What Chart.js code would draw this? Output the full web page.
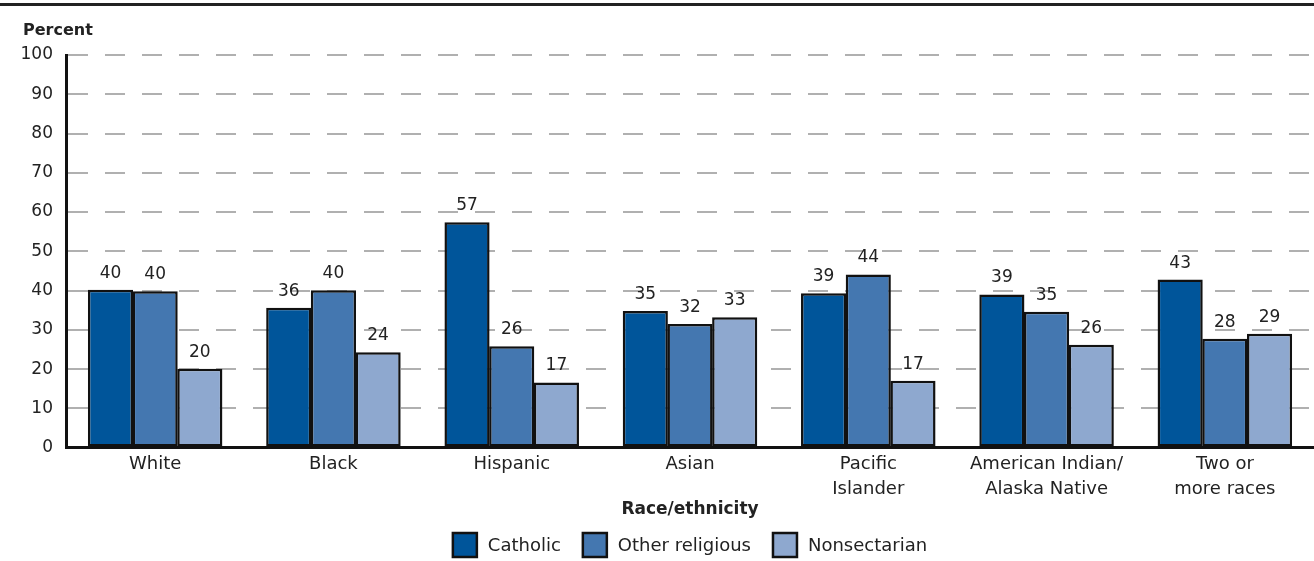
<!DOCTYPE html>
<html>
<head>
<meta charset="utf-8">
<script src="https://cdn.jsdelivr.net/npm/chart.js@4/dist/chart.umd.min.js"></script>
<style>
  html, body { margin: 0; padding: 0; background: #fff; }
  #wrap { width: 1314px; height: 561px; position: relative; }
</style>
</head>
<body>
<div id="wrap"><canvas id="chart" width="1314" height="561"></canvas></div>
<script>
// Race/ethnicity by school type (percent); labels show the rounded value
const categories = ["White", "Black", "Hispanic", "Asian", ["Pacific", "Islander"], ["American Indian/", "Alaska Native"], ["Two or", "more races"]];
const catholic = [40.2, 35.6, 57.4, 34.8, 39.3, 39.0, 42.8];
const otherReligious = [39.8, 40.1, 25.8, 31.5, 44.1, 34.6, 27.7];
const nonsectarian = [20.1, 24.3, 16.6, 33.2, 17.0, 26.2, 29.0];
const yTicks = [0, 10, 20, 30, 40, 50, 60, 70, 80, 90, 100];
const seriesNames = ["Catholic", "Other religious", "Nonsectarian"];
const seriesColors = ["#00559a", "#4477b0", "#8ea8cf"];

const FONT = "DejaVu Sans";
const INK = "#222";

Chart.defaults.font.family = FONT;
Chart.defaults.color = INK;

// value labels, top rule, "Percent" header and the legend row
const annotate = {
  id: "annotate",
  afterDatasetsDraw(chart) {
    const ctx = chart.ctx;
    ctx.save();
    ctx.font = "17px " + FONT;
    ctx.fillStyle = INK;
    ctx.textAlign = "center";
    ctx.textBaseline = "alphabetic";
    chart.data.datasets.forEach((ds, i) => {
      chart.getDatasetMeta(i).data.forEach((bar, j) => {
        ctx.fillText(String(Math.round(ds.data[j])), bar.x, bar.y - 12);
      });
    });
    ctx.restore();
  },
  afterDraw(chart) {
    const ctx = chart.ctx;
    const area = chart.chartArea;
    ctx.save();
    ctx.fillStyle = INK;
    ctx.fillRect(0, 3, chart.width, 3);
    ctx.font = "bold 16px " + FONT;
    ctx.textAlign = "left";
    ctx.textBaseline = "alphabetic";
    ctx.fillText("Percent", 23, 35);

    // legend
    const box = 24, textGap = 11, itemGap = 22;
    ctx.font = "18px " + FONT;
    const widths = seriesNames.map(n => box + textGap + ctx.measureText(n).width);
    const total = widths.reduce((a, b) => a + b, 0) + itemGap * (widths.length - 1);
    let x = (area.left + area.right) / 2 - total / 2;
    const cy = chart.height - 16;
    ctx.textBaseline = "middle";
    seriesNames.forEach((n, i) => {
      ctx.fillStyle = seriesColors[i];
      ctx.fillRect(x, cy - box / 2, box, box);
      ctx.lineWidth = 2.5;
      ctx.strokeStyle = "#111";
      ctx.strokeRect(x, cy - box / 2, box, box);
      ctx.fillStyle = INK;
      ctx.fillText(n, x + box + textGap, cy + 1);
      x += widths[i] + itemGap;
    });
    ctx.restore();
  }
};

const barStyle = { borderColor: "#111", borderWidth: 2.5, borderSkipped: false, categoryPercentage: 0.752, barPercentage: 1.01 };

new Chart(document.getElementById("chart"), {
  type: "bar",
  data: {
    labels: categories,
    datasets: [
      { label: seriesNames[0], data: catholic, backgroundColor: seriesColors[0], ...barStyle },
      { label: seriesNames[1], data: otherReligious, backgroundColor: seriesColors[1], ...barStyle },
      { label: seriesNames[2], data: nonsectarian, backgroundColor: seriesColors[2], ...barStyle },
    ]
  },
  options: {
    responsive: false,
    animation: false,
    layout: { padding: { top: 55, right: 0, left: 0, bottom: 43 } },
    plugins: {
      tooltip: { enabled: false },
      legend: { display: false }
    },
    scales: {
      x: {
        grid: { display: false, drawTicks: false },
        border: { display: true, color: "#111", width: 3 },
        ticks: { font: { size: 18, lineHeight: 1.4 }, color: INK, padding: 4, maxRotation: 0, autoSkip: false },
        title: { display: true, text: "Race/ethnicity", font: { size: 17, weight: "bold", lineHeight: 1 }, color: INK, padding: { top: -5, bottom: 0 } }
      },
      y: {
        min: 0,
        max: 100,
        afterBuildTicks: (s) => { s.ticks = yTicks.map(v => ({ value: v })); },
        afterFit: (s) => { s.width = 66; },
        grid: { color: "#b0b0b0", lineWidth: 2, drawTicks: false },
        border: { display: true, color: "#111", width: 3, dash: [20, 17] },
        ticks: { font: { size: 17 }, color: INK, padding: 13 }
      }
    }
  },
  plugins: [annotate]
});
</script>
</body>
</html>
